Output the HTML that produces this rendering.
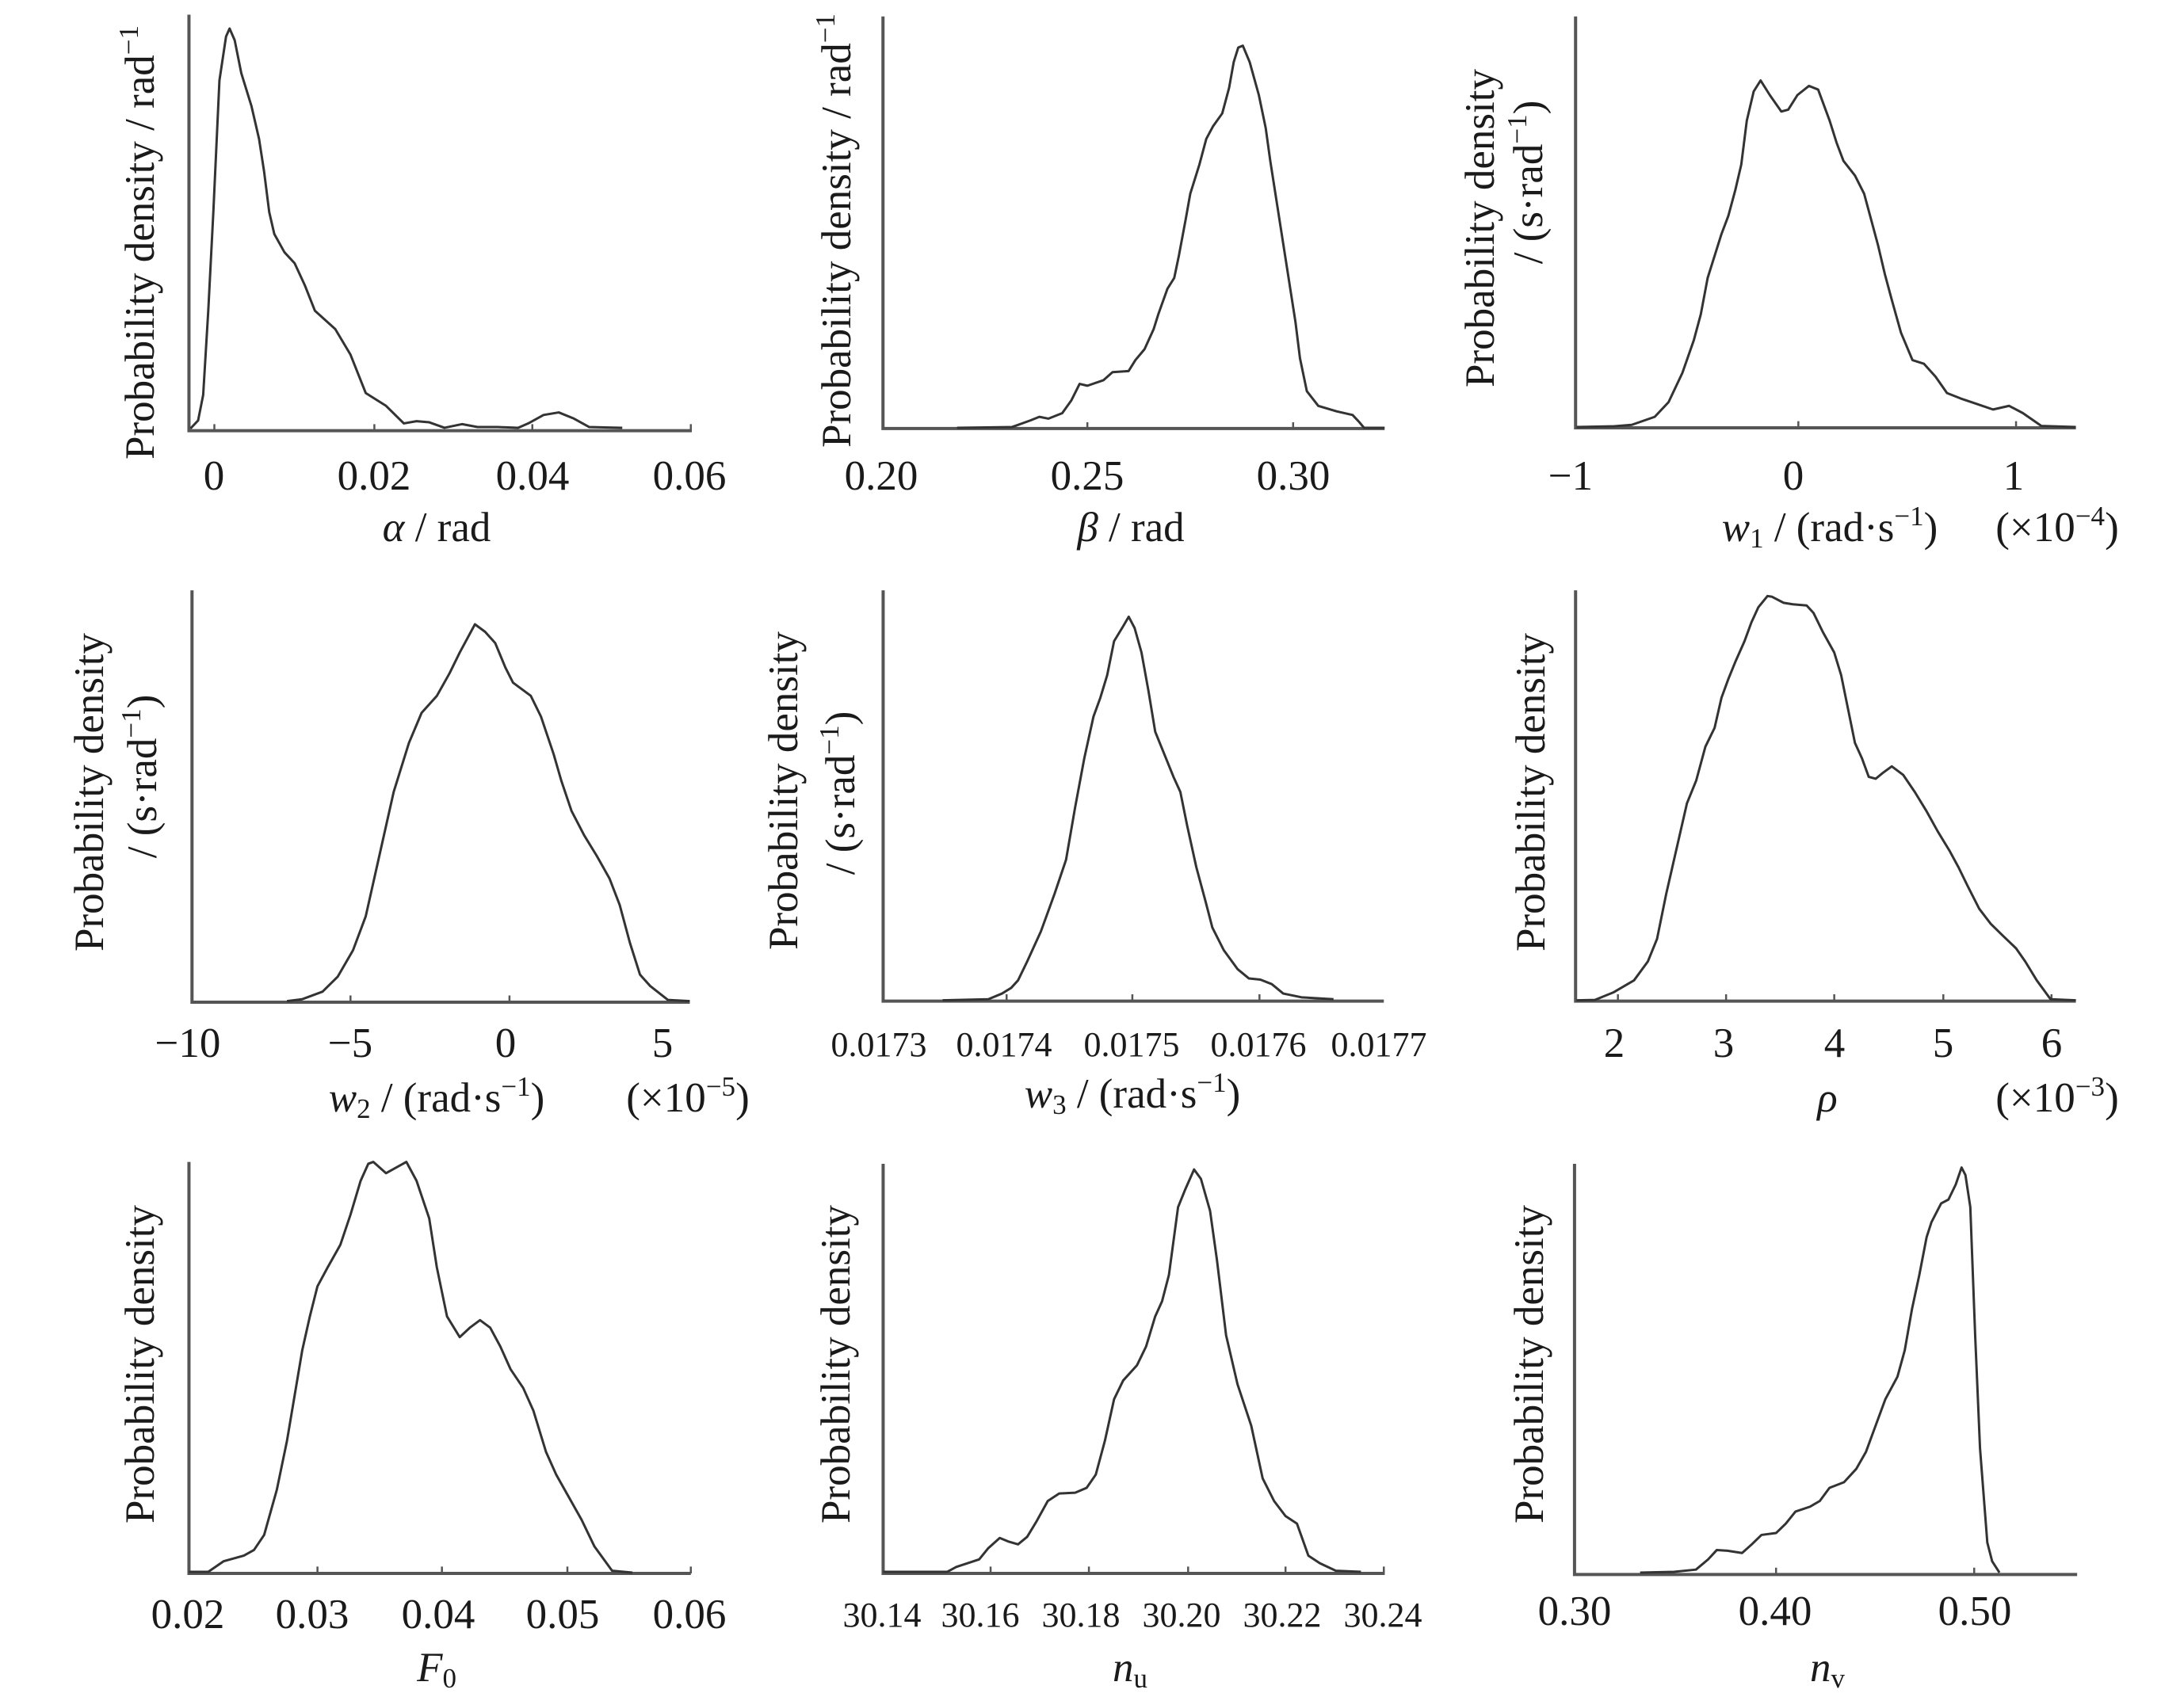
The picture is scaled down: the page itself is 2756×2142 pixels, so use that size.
<!DOCTYPE html>
<html><head><meta charset="utf-8"><style>
html,body{margin:0;padding:0;background:#fff}
svg{display:block}
text{font-family:"Liberation Serif","DejaVu Serif",serif;fill:#1a1a1a;font-size:53px}
.ax{fill:none;stroke:#555;stroke-width:4}
.cv{fill:none;stroke:#333;stroke-width:3;stroke-linejoin:round}
.tk{fill:none;stroke:#555;stroke-width:2.5}
</style></head><body>
<svg width="2756" height="2142" viewBox="0 0 2756 2142" xmlns="http://www.w3.org/2000/svg">

<!-- Panel 1 -->
<g transform="matrix(0.641,0,0,0.4615,0,0)">
<path class="ax" vector-effect="non-scaling-stroke" d="M372,40V1178H1362"/>
<path class="tk" vector-effect="non-scaling-stroke" d="M422,1178V1160M737,1178V1160M1048,1178V1160M1360,1178V1160"/>
<path class="cv" vector-effect="non-scaling-stroke" d="M375,1172 390,1150 400,1080 410,850 420,580 432,220 445,100 452,78 462,110 475,200 495,290 510,380 520,470 530,580 540,640 560,690 580,720 600,780 620,850 660,900 690,970 720,1075 760,1110 795,1158 820,1152 845,1155 875,1170 910,1160 940,1168 980,1168 1020,1170 1040,1158 1070,1135 1100,1128 1130,1145 1160,1168 1225,1170"/>
</g>
<g text-anchor="middle">
<text x="270" y="618">0</text><text x="472" y="618">0.02</text><text x="672" y="618">0.04</text><text x="870" y="618">0.06</text>
<text x="551" y="683"><tspan font-style="italic">α</tspan> / rad</text>
<text transform="translate(194,306) rotate(-90)">Probability density / rad<tspan dy="-20" font-size="35">−1</tspan></text>
</g>

<!-- Panel 2 -->
<g transform="matrix(0.577,0,0,0.4615,1000,0)">
<path class="ax" vector-effect="non-scaling-stroke" d="M198,45V1172H1295"/>
<path class="tk" vector-effect="non-scaling-stroke" d="M645,1172V1155M1095,1172V1155"/>
<path class="cv" vector-effect="non-scaling-stroke" d="M360,1170 480,1168 520,1150 540,1140 560,1145 590,1130 610,1095 628,1050 645,1055 680,1040 700,1018 735,1015 750,985 770,955 790,900 800,860 820,790 835,760 845,700 860,600 870,530 880,490 890,450 905,380 920,345 940,310 955,240 965,170 975,130 985,125 1000,170 1020,260 1035,350 1045,440 1060,560 1070,640 1080,720 1090,800 1100,880 1110,980 1125,1070 1150,1110 1190,1125 1225,1135 1240,1155 1250,1170 1295,1170"/>
</g>
<g text-anchor="middle">
<text x="1112" y="618">0.20</text><text x="1372" y="618">0.25</text><text x="1632" y="618">0.30</text>
<text x="1427" y="683"><tspan font-style="italic">β</tspan> / rad</text>
<text transform="translate(1073,291) rotate(-90)">Probability density / rad<tspan dy="-20" font-size="35">−1</tspan></text>
</g>

<!-- Panel 3 -->
<g transform="matrix(0.5808,0,0,0.4615,1850,0)">
<path class="ax" vector-effect="non-scaling-stroke" d="M238,45V1170H1325"/>
<path class="tk" vector-effect="non-scaling-stroke" d="M722,1170V1152M1195,1170V1152"/>
<path class="cv" vector-effect="non-scaling-stroke" d="M240,1168 320,1166 360,1162 410,1140 440,1100 470,1020 495,930 510,860 525,760 540,700 555,640 570,590 585,520 598,450 610,330 625,250 640,220 660,260 685,305 700,300 720,260 745,235 765,245 790,330 805,390 820,440 845,480 865,530 880,600 895,670 910,750 925,820 945,910 970,985 995,995 1020,1030 1045,1075 1075,1090 1110,1105 1145,1120 1180,1110 1210,1130 1250,1165 1325,1168"/>
</g>
<g text-anchor="middle">
<text x="1982" y="618">−1</text><text x="2263" y="618">0</text><text x="2541" y="618">1</text>
<text x="2309" y="683"><tspan font-style="italic">w</tspan><tspan font-size="35" dy="8">1</tspan><tspan dy="-8"> / (rad·s</tspan><tspan dy="-20" font-size="35">−1</tspan><tspan dy="20">)</tspan></text>
<text x="2596" y="683">(×10<tspan dy="-20" font-size="35">−4</tspan><tspan dy="20">)</tspan></text>
<text transform="translate(1885,288) rotate(-90)">Probability density</text>
<text transform="translate(1946,230) rotate(-90)">/ (s·rad<tspan dy="-20" font-size="35">−1</tspan><tspan dy="20">)</tspan></text>
</g>

<!-- Panel 4 -->
<g transform="matrix(0.641,0,0,0.4756,0,700)">
<path class="ax" vector-effect="non-scaling-stroke" d="M378,95V1188H1358"/>
<path class="tk" vector-effect="non-scaling-stroke" d="M690,1188V1170M1003,1188V1170"/>
<path class="cv" vector-effect="non-scaling-stroke" d="M565,1185 595,1180 635,1160 665,1120 695,1050 720,960 745,810 775,630 805,500 830,420 860,375 885,315 905,260 935,185 955,205 975,235 995,300 1010,340 1020,350 1045,375 1065,430 1090,530 1105,600 1125,680 1150,745 1175,800 1200,860 1220,930 1240,1030 1260,1115 1280,1145 1315,1182 1358,1185"/>
</g>
<g text-anchor="middle">
<text x="237" y="1334">−10</text><text x="442" y="1334">−5</text><text x="638" y="1334">0</text><text x="836" y="1334">5</text>
<text x="551" y="1403"><tspan font-style="italic">w</tspan><tspan font-size="35" dy="8">2</tspan><tspan dy="-8"> / (rad·s</tspan><tspan dy="-20" font-size="35">−1</tspan><tspan dy="20">)</tspan></text>
<text x="868" y="1403">(×10<tspan dy="-20" font-size="35">−5</tspan><tspan dy="20">)</tspan></text>
<text transform="translate(130,1000) rotate(-90)">Probability density</text>
<text transform="translate(197,980) rotate(-90)">/ (s·rad<tspan dy="-20" font-size="35">−1</tspan><tspan dy="20">)</tspan></text>
</g>

<!-- Panel 5 -->
<g transform="matrix(0.577,0,0,0.4756,950,700)">
<path class="ax" vector-effect="non-scaling-stroke" d="M285,95V1185H1380"/>
<path class="tk" vector-effect="non-scaling-stroke" d="M555,1185V1167M830,1185V1167M1108,1185V1167"/>
<path class="cv" vector-effect="non-scaling-stroke" d="M415,1183 515,1180 545,1165 565,1150 580,1130 600,1080 630,1000 660,900 685,810 705,670 725,540 745,430 760,380 775,320 790,230 810,190 822,165 835,195 850,260 865,360 880,470 900,530 920,590 935,630 950,720 970,830 990,920 1005,990 1030,1050 1060,1100 1085,1125 1110,1128 1135,1140 1160,1165 1200,1175 1270,1180"/>
</g>
<g text-anchor="middle">
<text x="1109" y="1333" style="font-size:44px">0.0173</text><text x="1267" y="1333" style="font-size:44px">0.0174</text><text x="1428" y="1333" style="font-size:44px">0.0175</text><text x="1588" y="1333" style="font-size:44px">0.0176</text><text x="1740" y="1333" style="font-size:44px">0.0177</text>
<text x="1429" y="1398"><tspan font-style="italic">w</tspan><tspan font-size="35" dy="8">3</tspan><tspan dy="-8"> / (rad·s</tspan><tspan dy="-20" font-size="35">−1</tspan><tspan dy="20">)</tspan></text>
<text transform="translate(1006,998) rotate(-90)">Probability density</text>
<text transform="translate(1078,1001) rotate(-90)">/ (s·rad<tspan dy="-20" font-size="35">−1</tspan><tspan dy="20">)</tspan></text>
</g>

<!-- Panel 6 -->
<g transform="matrix(0.5808,0,0,0.4756,1850,700)">
<path class="ax" vector-effect="non-scaling-stroke" d="M238,95V1185H1325"/>
<path class="tk" vector-effect="non-scaling-stroke" d="M330,1185V1167M565,1185V1167M800,1185V1167M1037,1185V1167M1272,1185V1167"/>
<path class="cv" vector-effect="non-scaling-stroke" d="M240,1183 280,1182 320,1162 365,1130 395,1080 415,1020 435,900 450,820 465,740 480,660 500,600 520,510 540,460 555,380 570,330 585,285 605,230 620,180 635,140 655,110 665,112 690,128 710,132 740,135 755,155 775,205 800,260 815,320 830,410 845,500 860,540 875,590 890,595 905,580 925,562 950,585 975,630 1000,680 1025,735 1050,785 1070,830 1090,880 1115,940 1140,980 1165,1010 1195,1045 1215,1080 1240,1130 1270,1180 1325,1183"/>
</g>
<g text-anchor="middle">
<text x="2037" y="1334">2</text><text x="2175" y="1334">3</text><text x="2315" y="1334">4</text><text x="2452" y="1334">5</text><text x="2589" y="1334">6</text>
<text x="2306" y="1403" font-style="italic">ρ</text>
<text x="2596" y="1403">(×10<tspan dy="-20" font-size="35">−3</tspan><tspan dy="20">)</tspan></text>
<text transform="translate(1949,1000) rotate(-90)">Probability density</text>
</g>

<!-- Panel 7 -->
<g transform="matrix(0.641,0,0,0.4756,0,1400)">
<path class="ax" vector-effect="non-scaling-stroke" d="M372,140V1232H1360"/>
<path class="tk" vector-effect="non-scaling-stroke" d="M625,1232V1214M870,1232V1214M1117,1232V1214M1360,1232V1214"/>
<path class="cv" vector-effect="non-scaling-stroke" d="M372,1228 410,1228 440,1200 480,1185 500,1170 520,1130 545,1010 565,880 580,760 595,640 610,550 625,470 645,420 670,360 690,280 710,190 725,145 735,140 760,170 780,155 800,140 820,190 845,290 860,420 880,550 905,605 925,580 945,560 965,580 985,630 1005,690 1030,740 1050,800 1075,910 1095,970 1120,1030 1145,1090 1170,1160 1205,1225 1245,1230"/>
</g>
<g text-anchor="middle">
<text x="237" y="2055">0.02</text><text x="394" y="2055">0.03</text><text x="553" y="2055">0.04</text><text x="710" y="2055">0.05</text><text x="870" y="2055">0.06</text>
<text x="551" y="2122"><tspan font-style="italic">F</tspan><tspan font-size="35" dy="8">0</tspan></text>
<text transform="translate(194,1722) rotate(-90)">Probability density</text>
</g>

<!-- Panel 8 -->
<g transform="matrix(0.577,0,0,0.4756,950,1400)">
<path class="ax" vector-effect="non-scaling-stroke" d="M285,145V1232H1382"/>
<path class="tk" vector-effect="non-scaling-stroke" d="M520,1232V1214M735,1232V1214M952,1232V1214M1165,1232V1214M1380,1232V1214"/>
<path class="cv" vector-effect="non-scaling-stroke" d="M285,1228 425,1228 445,1215 470,1205 495,1195 515,1165 540,1138 560,1148 580,1155 600,1135 620,1095 645,1040 670,1020 705,1018 730,1005 750,970 770,880 790,770 810,720 840,680 860,630 880,550 895,510 910,440 930,260 945,215 965,160 980,185 1000,270 1015,400 1035,600 1060,730 1090,840 1115,980 1140,1040 1165,1080 1190,1100 1215,1185 1240,1205 1275,1225 1330,1228"/>
</g>
<g text-anchor="middle">
<text x="1113" y="2053" style="font-size:44px">30.14</text><text x="1237" y="2053" style="font-size:44px">30.16</text><text x="1364" y="2053" style="font-size:44px">30.18</text><text x="1491" y="2053" style="font-size:44px">30.20</text><text x="1618" y="2053" style="font-size:44px">30.22</text><text x="1745" y="2053" style="font-size:44px">30.24</text>
<text x="1426" y="2122"><tspan font-style="italic">n</tspan><tspan font-size="35" dy="8">u</tspan></text>
<text transform="translate(1072,1722) rotate(-90)">Probability density</text>
</g>

<!-- Panel 9 -->
<g transform="matrix(0.6128,0,0,0.4756,1800,1400)">
<path class="ax" vector-effect="non-scaling-stroke" d="M305,145V1235H1340"/>
<path class="tk" vector-effect="non-scaling-stroke" d="M720,1235V1217M1128,1235V1217"/>
<path class="cv" vector-effect="non-scaling-stroke" d="M440,1230 510,1228 555,1222 580,1195 598,1170 620,1172 650,1178 670,1155 690,1130 720,1125 740,1100 760,1068 790,1055 810,1040 830,1005 860,990 885,955 905,910 925,840 945,770 970,710 985,640 1000,530 1015,440 1030,340 1040,300 1060,250 1075,240 1090,200 1102,155 1110,175 1120,260 1130,600 1140,900 1155,1150 1165,1200 1180,1230"/>
</g>
<g text-anchor="middle">
<text x="1987" y="2051">0.30</text><text x="2240" y="2051">0.40</text><text x="2492" y="2051">0.50</text>
<text x="2306" y="2122"><tspan font-style="italic">n</tspan><tspan font-size="35" dy="8">v</tspan></text>
<text transform="translate(1947,1722) rotate(-90)">Probability density</text>
</g>
</svg>
</body></html>
